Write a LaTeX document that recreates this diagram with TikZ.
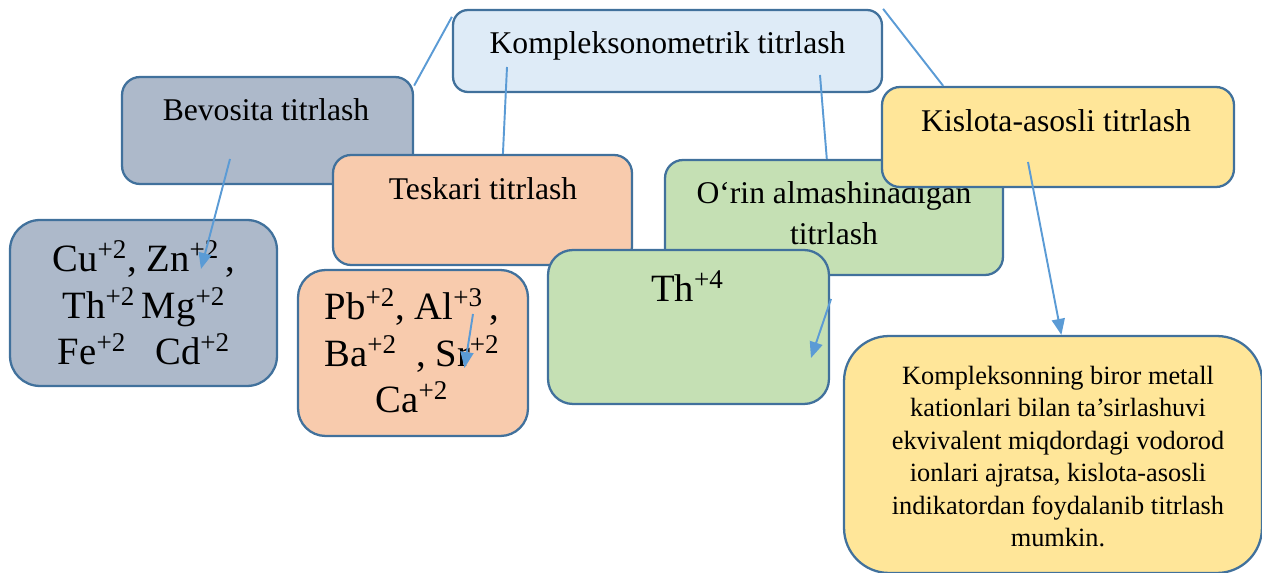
\documentclass[tikz,border=0pt]{standalone}
\usepackage{fontspec}
\setmainfont{Liberation Serif}
\usetikzlibrary{shapes.misc,arrows.meta}
\definecolor{edge}{HTML}{41719C}
\definecolor{wire}{HTML}{5B9BD5}
\definecolor{paleblue}{HTML}{DEEBF7}
\definecolor{slate}{HTML}{ADB9CA}
\definecolor{peach}{HTML}{F8CBAD}
\definecolor{sage}{HTML}{C5E0B4}
\definecolor{sand}{HTML}{FFE699}

\begin{document}
\begin{tikzpicture}[x=0.02cm,y=-0.02cm]
   \useasboundingbox (0,0) rectangle (1262,573);
   \tikzstyle{box}=[rectangle, rounded corners=0.36cm, draw=edge, line width=1.3pt, inner sep=0pt]
   \tikzstyle{txt}=[inner sep=0pt, anchor=base, align=center, font=\fontsize{18}{23.8}\selectfont]
   \tikzstyle{big}=[txt, font=\fontsize{22}{26.5}\selectfont]
   \tikzstyle{note}=[txt, font=\fontsize{15}{18.5}\selectfont]
   \tikzstyle{link}=[draw=wire, line width=1.1pt]
   \tikzstyle{pointer}=[link, -{Triangle[length=0.32cm,width=0.26cm]}]
   % top
   \node[box, fill=paleblue, rounded corners=0.3cm, minimum width=8.58cm, minimum height=1.64cm] (complex) at (667.5,51) {};
   \node[txt] (complextext) at (667.5,54) {Kompleksonometrik titrlash};
   % methods
   \node[box, fill=slate, minimum width=5.82cm, minimum height=2.14cm] (direct) at (267.5,130.5) {};
   \node[txt] (directtext) at (266,121) {Bevosita titrlash};
   \node[box, fill=peach, minimum width=5.98cm, minimum height=2.2cm] (back) at (482.5,210) {};
   \node[txt] (backtext) at (483,200) {Teskari titrlash};
   \node[box, fill=sage, minimum width=6.76cm, minimum height=2.3cm] (swap) at (834,217.5) {};
   \node[txt] (swaptext) at (834,245) {O‘rin almashinadigan\\titrlash};
   \node[box, fill=sand, minimum width=7.04cm, minimum height=2cm] (acid) at (1058,137) {};
   \node[txt] (acidtext) at (1056,132) {Kislota-asosli titrlash};
   % ions
   \node[box, fill=slate, rounded corners=0.6cm, minimum width=5.34cm, minimum height=3.32cm] (ionsa) at (143.5,303) {};
   \node[big] (ionsatext) at (144,365) {Cu\textsuperscript{+2}, Zn\textsuperscript{+2}\,,\\Th\textsuperscript{+2}\,Mg\textsuperscript{+2}\\Fe\textsuperscript{+2}\ \ \ Cd\textsuperscript{+2}};
   \node[box, fill=peach, rounded corners=0.55cm, minimum width=4.6cm, minimum height=3.32cm] (ionsb) at (413,353) {};
   \node[big] (ionsbtext) at (412,413) {Pb\textsuperscript{+2}, Al\textsuperscript{+3}\,,\\Ba\textsuperscript{+2}\ \ , Sr\textsuperscript{+2}\\Ca\textsuperscript{+2}};
   \node[box, fill=sage, rounded corners=0.5cm, minimum width=5.62cm, minimum height=3.08cm] (ionsc) at (688.5,327) {};
   \node[big] (ionsctext) at (687.5,302) {Th\textsuperscript{+4}};
   \node[box, fill=sand, rounded corners=0.9cm, minimum width=8.36cm, minimum height=4.74cm] (info) at (1053,454.5) {};
   \node[note] (infotext) at (1058,547) {Kompleksonning biror metall\\kationlari bilan ta’sirlashuvi\\ekvivalent miqdordagi vodorod\\ionlari ajratsa, kislota-asosli\\indikatordan foydalanib titrlash\\mumkin.};
   % connectors
   \coordinate (c1) at (507,67);
   \coordinate (c2) at (820,75);
   \coordinate (a1) at (230,159);
   \coordinate (a1e) at (201,269);
   \coordinate (a2) at (473,314);
   \coordinate (a2e) at (464.5,368);
   \coordinate (a3) at (831,299);
   \coordinate (a3e) at (811,358);
   \coordinate (a4) at (1028,162);
   \path[link] (direct.17) -- (complex.171);
   \path[link] (complex.north east) -- (acid.156);
   \path[link] (c1) -- (back.70.5);
   \path[link] (c2) -- (swap.97);
   \path[pointer] (a1) -- (a1e);
   \path[pointer] (a2) -- (a2e);
   \path[pointer] (a3) -- (a3e);
   \path[pointer] (a4) -- (info.86);
\end{tikzpicture}
\end{document}
